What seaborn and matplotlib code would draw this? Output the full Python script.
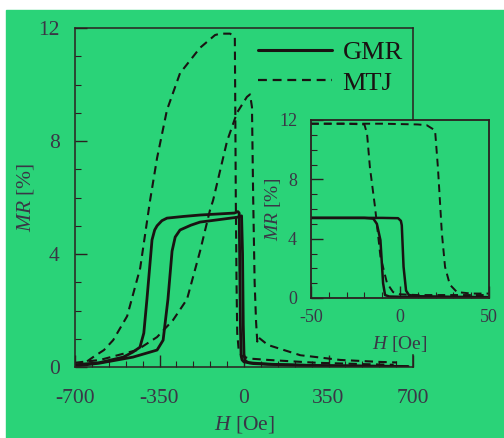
import numpy as np
import matplotlib.pyplot as plt
import seaborn as sns
from matplotlib.lines import Line2D
from matplotlib.patches import Rectangle
from matplotlib.ticker import MultipleLocator

# Main panel, GMR (solid) branches
gmr_a_h = [-700, -600, -500, -460, -431, -415, -402, -390, -381, -370, -360, -340, -319, -250, -182, -100, -40, -25,
           -20, -18, -15, -12, -8, 0, 40, 150, 300, 500, 680]
gmr_a_mr = [0.08, 0.15, 0.35, 0.53, 0.7, 1.2, 2.4, 3.6, 4.5, 4.85, 5.0, 5.18, 5.27, 5.33, 5.38, 5.42, 5.45, 5.5,
            5.45, 4.0, 1.5, 0.4, 0.25, 0.18, 0.12, 0.08, 0.05, 0.03, 0.02]
gmr_b_h = [-700, -596, -460, -360, -335, -315, -298, -285, -265, -220, -182, -100, -29, -10, -6, -3, 0, 5, 20, 100,
           300, 500, 650]
gmr_b_mr = [0.03, 0.14, 0.35, 0.6, 0.95, 2.4, 4.1, 4.6, 4.85, 5.02, 5.13, 5.22, 5.3, 5.35, 4.0, 1.5, 0.45, 0.22,
            0.15, 0.1, 0.05, 0.03, 0.02]

# Main panel, MTJ (dashed) branches
mtj_a_h = [-650, -625, -580, -542, -484, -430, -389, -360, -319, -265, -182, -120, -99, -58, -38, -36, -34, -31, -28,
           -22, -10, 20, 100, 300, 500, 620]
mtj_a_mr = [0.2, 0.35, 0.6, 0.95, 1.8, 3.5, 5.9, 7.4, 9.1, 10.4, 11.3, 11.75, 11.8, 11.8, 11.7, 9.0, 6.0, 3.0, 1.2,
            0.6, 0.4, 0.3, 0.25, 0.15, 0.1, 0.08]
mtj_b_h = [-700, -596, -443, -360, -294, -236, -182, -141, -128, -70, -29, 12, 25, 33, 38, 44, 50, 55, 58, 99, 232,
           398, 563, 634]
mtj_b_mr = [0.15, 0.25, 0.6, 1.06, 1.66, 2.4, 4.1, 5.55, 5.9, 8.0, 9.0, 9.56, 9.65, 9.2, 6.0, 3.0, 1.6, 0.9, 1.06,
            0.78, 0.42, 0.25, 0.18, 0.16]

# Inset panel
in_mtj_a_h = [-50, -30, -20, -18.5, -16.9, -14, -11, -7.3, -3.9, 0, 10, 30, 50]
in_mtj_a_mr = [11.75, 11.75, 11.7, 11.06, 8.8, 6.1, 2.8, 1.0, 0.4, 0.25, 0.2, 0.2, 0.2]
in_mtj_b_h = [-50, -10, 10, 15, 19.7, 21.3, 23.5, 25.3, 28, 32, 40, 50]
in_mtj_b_mr = [11.75, 11.75, 11.7, 11.65, 11.3, 8.8, 4.4, 2.1, 0.9, 0.4, 0.3, 0.3]
in_gmr_a_h = [-50, -20, -15, -13, -11, -9.5, -8.4, -6, 0, 20, 50]
in_gmr_a_mr = [5.4, 5.4, 5.35, 5.0, 3.9, 1.0, 0.2, 0.1, 0.08, 0.05, 0.05]
in_gmr_b_h = [-50, -10, -1.1, 0.5, 1, 2, 3.4, 5, 10, 30, 50]
in_gmr_b_mr = [5.4, 5.4, 5.38, 5.2, 4.9, 2.1, 0.5, 0.2, 0.12, 0.08, 0.06]

main_xticks = [-700, -350, 0, 350, 700]
main_yticks = [0, 4, 8, 12]
inset_xticks = [-50, 0, 50]
inset_yticks = [0, 4, 8, 12]

green = '#2ad378'
txt = '#3a3646'
dash = (0, (4, 2.6))

sns.set_theme(style="ticks")
plt.rcParams['font.family'] = ['Liberation Serif', 'DejaVu Serif']
plt.rcParams['mathtext.fontset'] = 'custom'
plt.rcParams['mathtext.rm'] = 'Liberation Serif'
plt.rcParams['mathtext.it'] = 'Liberation Serif:italic'
plt.rcParams['axes.unicode_minus'] = False

fig = plt.figure(figsize=(5.04, 4.38), dpi=100)
fig.patch.set_facecolor('white')

ax = fig.add_axes([75 / 504, 71 / 438, 338 / 504, 339 / 438])
ax.set_facecolor(green)

sns.lineplot(x=gmr_a_h, y=gmr_a_mr, ax=ax, sort=False, estimator=None, color='#1a1212', lw=2.0)
sns.lineplot(x=gmr_b_h, y=gmr_b_mr, ax=ax, sort=False, estimator=None, color='#1a1212', lw=2.0)
sns.lineplot(x=mtj_a_h, y=mtj_a_mr, ax=ax, sort=False, estimator=None, color='#1a1212', lw=1.5, linestyle=dash)
sns.lineplot(x=mtj_b_h, y=mtj_b_mr, ax=ax, sort=False, estimator=None, color='#1a1212', lw=1.5, linestyle=dash)

ax.set_xlim(-700, 700)
ax.set_ylim(0, 12)
ax.set_xticks(main_xticks)
ax.set_yticks(main_yticks)
ax.xaxis.set_minor_locator(MultipleLocator(70))
ax.yaxis.set_minor_locator(MultipleLocator(1))
ax.tick_params(which='both', direction='in', top=False, right=False, colors='#2a2020', labelcolor=txt)
ax.tick_params(which='major', length=8.5, width=1.0, labelsize=15.5)
ax.tick_params(which='minor', length=4.3, width=0.8)
ax.tick_params(axis='x', pad=16)
ax.tick_params(axis='y', pad=11)
for s in ax.spines.values():
    s.set_color('#2a2020')
    s.set_linewidth(1.1)
ax.set_xlabel(r'$H$ [Oe]', fontsize=15.5, color=txt, labelpad=4.5)
ax.set_ylabel(r'$MR$ [%]', fontsize=15.5, color=txt, labelpad=2)

handles = [Line2D([], [], color='#1a1212', lw=2.2),
           Line2D([], [], color='#1a1212', lw=1.6, linestyle=dash)]
fig.legend(handles, ['GMR', 'MTJ'], loc='upper left', bbox_to_anchor=(258 / 504, (438 - 41) / 438),
           frameon=False, fontsize=19, handlelength=2.8, handletextpad=0.4, labelspacing=0.25,
           borderpad=0, borderaxespad=0, labelcolor='#1a1212')

# cover part of the main right spine behind the inset labels
fig.patches.append(Rectangle((300 / 504, (438 - 353) / 438), 120 / 504, 55 / 438,
                             transform=fig.transFigure, color=green, zorder=1))
fig.patches.append(Rectangle((6 / 504, 0), 1, 428 / 438, transform=fig.transFigure,
                             color=green, zorder=-1))

ins = fig.add_axes([311 / 504, 140 / 438, 178 / 504, 178 / 438])
ins.set_zorder(3)
ins.set_facecolor(green)
sns.lineplot(x=in_gmr_a_h, y=in_gmr_a_mr, ax=ins, sort=False, estimator=None, color='#1a1212', lw=1.8)
sns.lineplot(x=in_gmr_b_h, y=in_gmr_b_mr, ax=ins, sort=False, estimator=None, color='#1a1212', lw=1.8)
sns.lineplot(x=in_mtj_a_h, y=in_mtj_a_mr, ax=ins, sort=False, estimator=None, color='#1a1212', lw=1.4,
             linestyle=dash)
sns.lineplot(x=in_mtj_b_h, y=in_mtj_b_mr, ax=ins, sort=False, estimator=None, color='#1a1212', lw=1.4,
             linestyle=dash)
ins.set_xlim(-50, 50)
ins.set_ylim(0, 12)
ins.set_xticks(inset_xticks)
ins.set_yticks(inset_yticks)
ins.xaxis.set_minor_locator(MultipleLocator(10))
ins.yaxis.set_minor_locator(MultipleLocator(1))
ins.tick_params(which='both', direction='in', top=False, right=False, colors='#2a2020', labelcolor=txt)
ins.tick_params(which='major', length=8.5, width=1.0, labelsize=13)
ins.tick_params(which='minor', length=4.3, width=0.8)
ins.tick_params(axis='x', pad=8)
ins.tick_params(axis='y', pad=10)
for s in ins.spines.values():
    s.set_color('#2a2020')
    s.set_linewidth(1.3)
ins.set_xlabel(r'$H$ [Oe]', fontsize=14, color=txt, labelpad=6)
ins.set_ylabel(r'$MR$ [%]', fontsize=14, color=txt, labelpad=-3)

fig.savefig('out.png', dpi=100)
